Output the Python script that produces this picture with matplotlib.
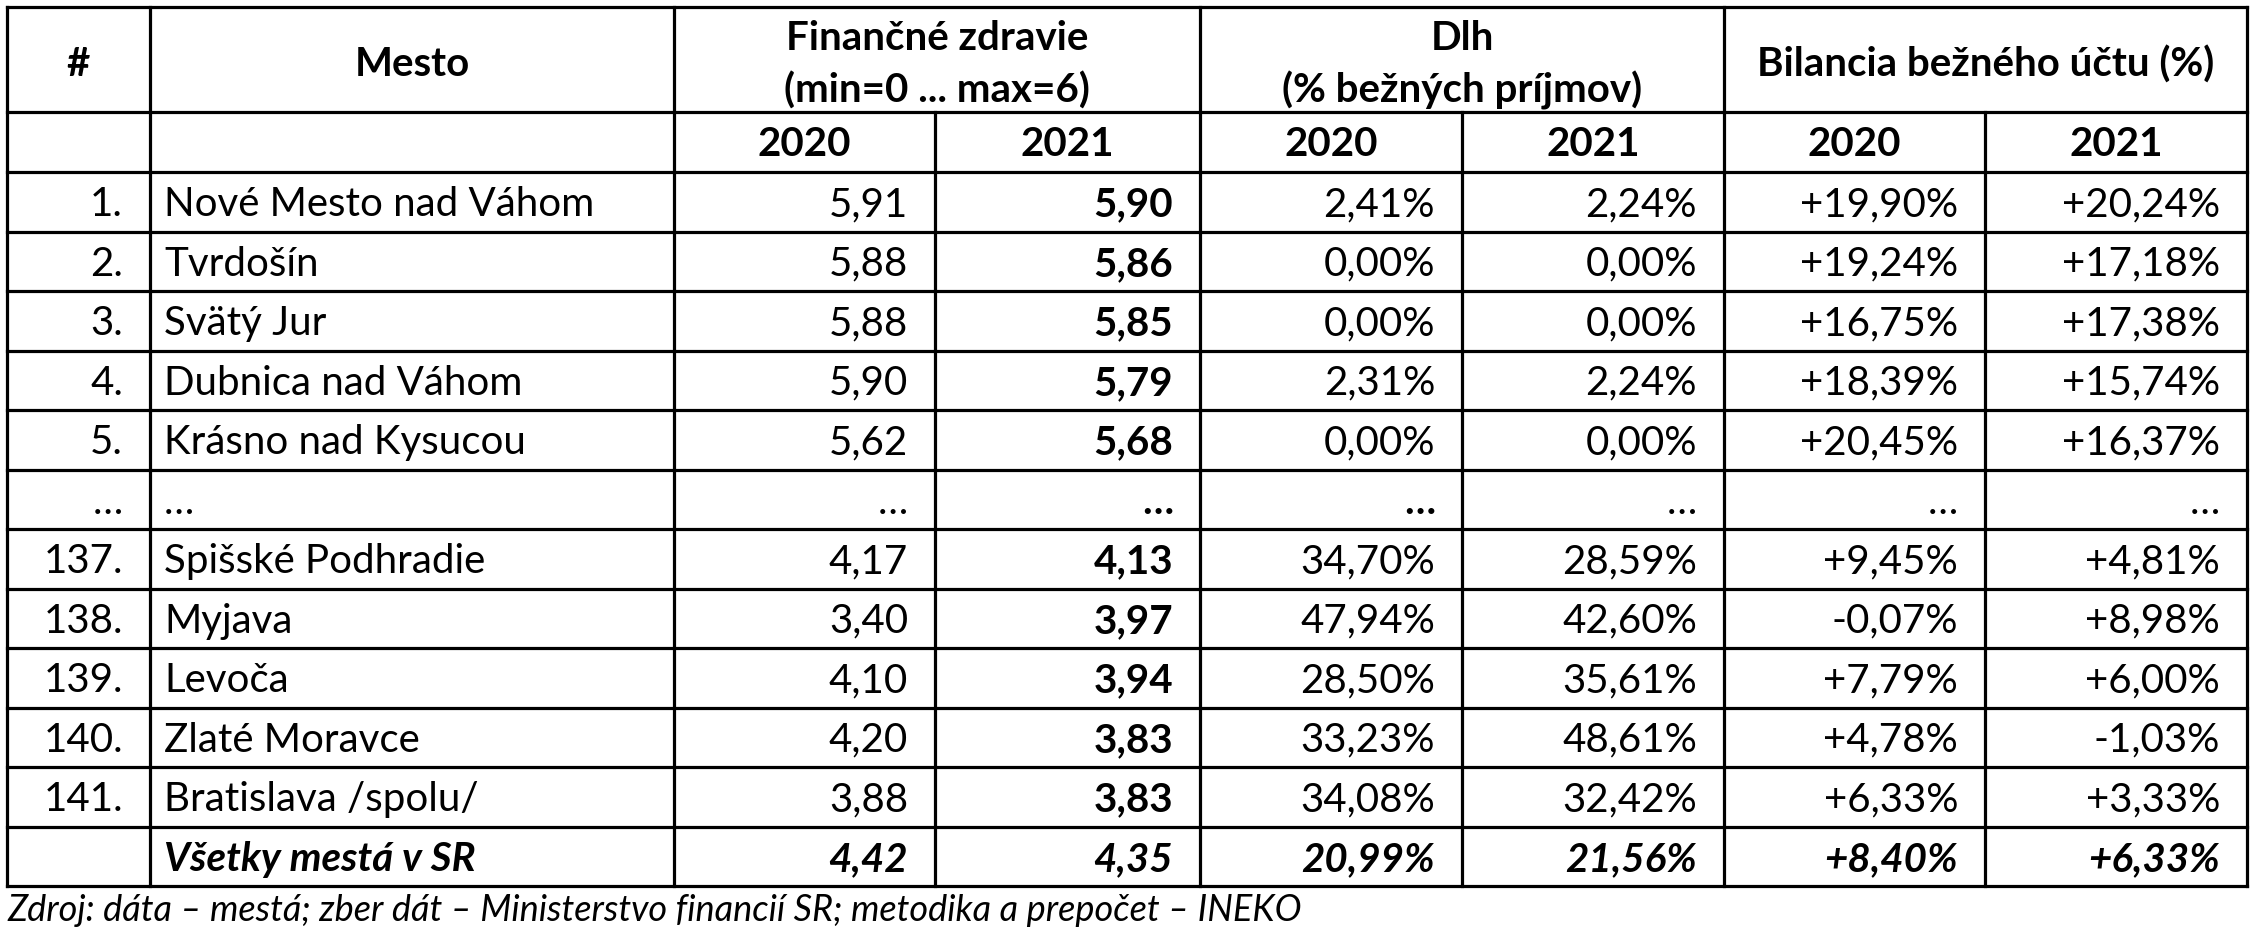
import matplotlib
matplotlib.use('Agg')
import matplotlib.pyplot as plt

# table content
ranks = ['1.', '2.', '3.', '4.', '5.', None, '137.', '138.', '139.', '140.', '141.']
cities = ['Nové Mesto nad Váhom', 'Tvrdošín', 'Svätý Jur', 'Dubnica nad Váhom',
          'Krásno nad Kysucou', None, 'Spišské Podhradie', 'Myjava', 'Levoča',
          'Zlaté Moravce', 'Bratislava /spolu/']
fz_2020 = [5.91, 5.88, 5.88, 5.90, 5.62, None, 4.17, 3.40, 4.10, 4.20, 3.88]
fz_2021 = [5.90, 5.86, 5.85, 5.79, 5.68, None, 4.13, 3.97, 3.94, 3.83, 3.83]
dlh_2020 = [2.41, 0.00, 0.00, 2.31, 0.00, None, 34.70, 47.94, 28.50, 33.23, 34.08]
dlh_2021 = [2.24, 0.00, 0.00, 2.24, 0.00, None, 28.59, 42.60, 35.61, 48.61, 32.42]
bil_2020 = [19.90, 19.24, 16.75, 18.39, 20.45, None, 9.45, -0.07, 7.79, 4.78, 6.33]
bil_2021 = [20.24, 17.18, 17.38, 15.74, 16.37, None, 4.81, 8.98, 6.00, -1.03, 3.33]

total_label = 'Všetky mestá v SR'
total_fz = [4.42, 4.35]
total_dlh = [20.99, 21.56]
total_bil = [8.40, 6.33]

groups = ['Finančné zdravie\n(min=0 ... max=6)', 'Dlh\n(% bežných príjmov)',
          'Bilancia bežného účtu (%)']
years = ['2020', '2021']
source = 'Zdroj: dáta – mestá; zber dát – Ministerstvo financií SR; metodika a prepočet – INEKO'


def num(v):
    return f'{v:.2f}'.replace('.', ',')


def pct(v):
    return num(v) + '%'


def spct(v):
    return ('+' if v >= 0 else '') + num(v) + '%'


plt.rcParams['font.family'] = ['Lato', 'DejaVu Sans']
W, H = 2254, 935
fig = plt.figure(figsize=(W / 100, H / 100), dpi=100)
ax = fig.add_axes([0, 0, 1, 1])
ax.set_xlim(0, W)
ax.set_ylim(H, 0)
ax.axis('off')

xs = [7, 150, 674, 935, 1200, 1462, 1724, 1985, 2247]
top, mid, hdr = 7, 112, 172
rh = 59.5
nrows = len(ranks) + 1
ys = [top, mid] + [hdr + rh * i for i in range(nrows + 1)]
bottom = ys[-1]
lw = 2.3
fs = 29
pad = 27

for y in ys:
    ax.plot([xs[0], xs[-1]], [y, y], color='black', lw=lw, solid_capstyle='projecting')
for i, x in enumerate(xs):
    y0 = top if i in (0, 1, 2, 4, 6, 8) else mid
    ax.plot([x, x], [y0, bottom], color='black', lw=lw, solid_capstyle='projecting')

# header
cap = fs * 0.72 * 100 / 72 / 2
ax.text((xs[0] + xs[1]) / 2, 62 + cap, '#', ha='center', va='baseline', fontsize=fs, fontweight='bold')
ax.text((xs[1] + xs[2]) / 2, 62 + cap, 'Mesto', ha='center', va='baseline', fontsize=fs, fontweight='bold')
for g, label in enumerate(groups):
    cx = (xs[2 + 2 * g] + xs[4 + 2 * g]) / 2
    lines = label.split('\n')
    if len(lines) == 2:
        ax.text(cx, 35 + cap, lines[0], ha='center', va='baseline', fontsize=fs, fontweight='bold')
        ax.text(cx, 88 + cap, lines[1], ha='center', va='baseline', fontsize=fs, fontweight='bold')
    else:
        ax.text(cx, 62 + cap, lines[0], ha='center', va='baseline', fontsize=fs, fontweight='bold')
    for k, yr in enumerate(years):
        c = 2 + 2 * g + k
        ax.text((xs[c] + xs[c + 1]) / 2, (mid + hdr) / 2 + cap, yr, ha='center', va='baseline',
                fontsize=fs, fontweight='bold')

# body
cols = [fz_2020, fz_2021, dlh_2020, dlh_2021, bil_2020, bil_2021]
fmts = [num, num, pct, pct, spct, spct]
for r in range(len(ranks)):
    yb = hdr + rh * r + rh / 2 + cap
    ell = ranks[r] is None
    ax.text(xs[1] - pad, yb, '…' if ell else ranks[r], ha='right', va='baseline', fontsize=fs)
    ax.text(xs[1] + 14, yb, '…' if ell else cities[r], ha='left', va='baseline', fontsize=fs)
    for c, (vals, f) in enumerate(zip(cols, fmts)):
        bold = c == 1 or (ell and c == 2)
        s = '…' if vals[r] is None else f(vals[r])
        ax.text(xs[c + 3] - pad, yb, s, ha='right', va='baseline', fontsize=fs,
                fontweight='bold' if bold else 'normal')

# total row
yb = hdr + rh * len(ranks) + rh / 2 + cap
ax.text(xs[1] + 14, yb, total_label, ha='left', va='baseline', fontsize=fs,
        fontweight='bold', fontstyle='italic')
tvals = [num(total_fz[0]), num(total_fz[1]), pct(total_dlh[0]), pct(total_dlh[1]),
         spct(total_bil[0]), spct(total_bil[1])]
for c, s in enumerate(tvals):
    ax.text(xs[c + 3] - pad, yb, s, ha='right', va='baseline', fontsize=fs,
            fontweight='bold', fontstyle='italic')

ax.text(xs[0], 921, source, ha='left', va='baseline', fontsize=26, fontstyle='italic')

fig.savefig('out.png', dpi=100)
